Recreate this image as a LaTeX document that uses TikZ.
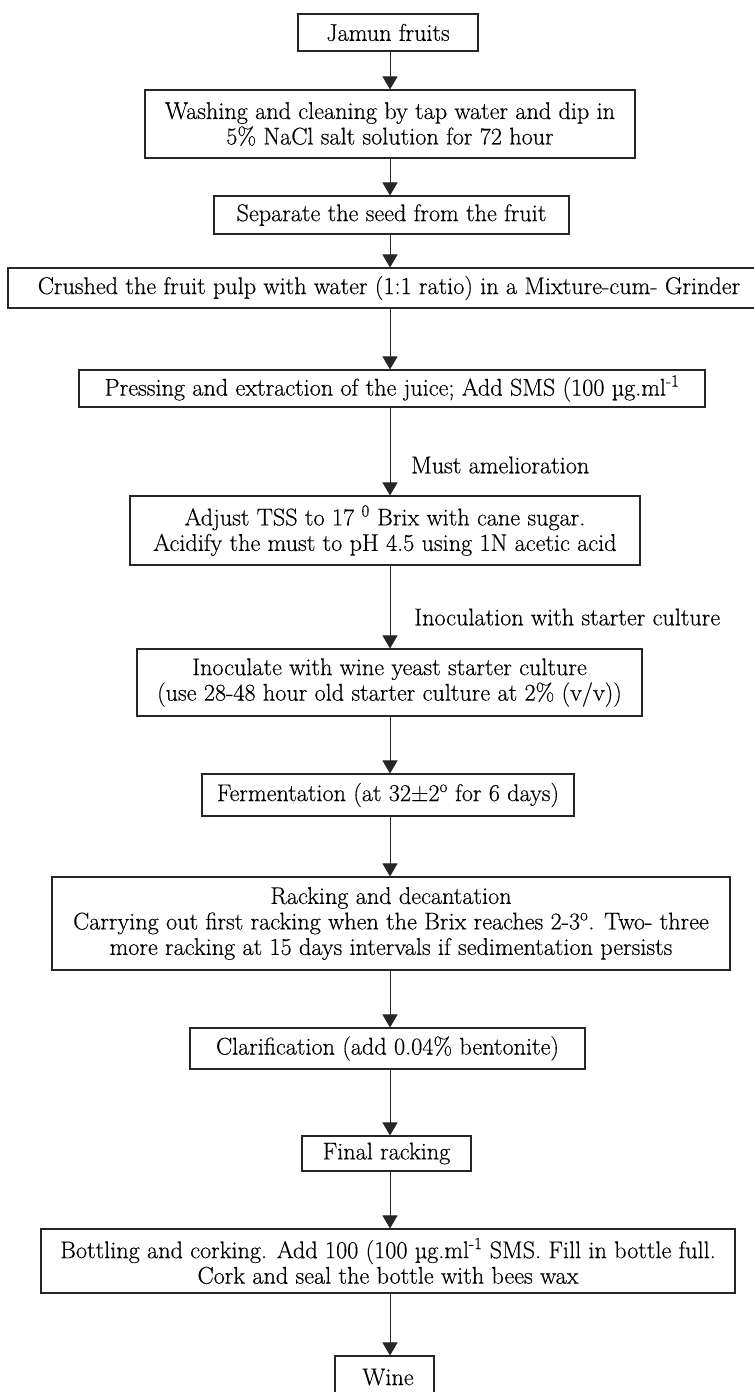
\documentclass[tikz,border=0pt]{standalone}
\usepackage{fontspec}
\setmainfont{Latin Modern Roman}[FakeBold=0.35]
\usetikzlibrary{arrows.meta}
\begin{document}
\begin{tikzpicture}[x=1pt,y=-1pt,
  stepbox/.style={draw=black!85,line width=1.1pt,inner sep=0pt,align=center,font=\fontsize{24.2}{25.5}\selectfont},
  arr/.style={draw=black!85,line width=1pt,-{Triangle[width=15pt,length=13pt]}},
  lbl/.style={anchor=west,inner sep=0pt,font=\fontsize{24.2}{25.5}\selectfont}]
\useasboundingbox[fill=white] (0,0) rectangle (754,1392);
\coordinate (spine) at (390,0);
\node[stepbox,minimum width=180pt,minimum height=37pt] (jamun) at (388,32.5) {Jamun fruits};
\node[stepbox,minimum width=490pt,minimum height=68pt] (wash) at (390,124) {Washing and cleaning by tap water and dip in\\5\% NaCl salt solution for 72 hour};
\node[stepbox,minimum width=355pt,minimum height=38pt] (sep) at (391.5,215) {Separate the seed from the fruit};
\node[stepbox,minimum width=762pt,minimum height=40pt] (crush) at (389,288) {Crushed the fruit pulp with water (1:1 ratio) in a Mixture-cum- Grinder};
\node[stepbox,minimum width=626pt,minimum height=37pt] (press) at (392,388.5) {Pressing and extraction of the juice; Add SMS (100 µg.ml\textsuperscript{-1}};
\node[stepbox,minimum width=510pt,minimum height=69pt] (adjust) at (385,530.5) {Adjust TSS to 17 \textsuperscript{0} Brix with cane sugar.\\Acidify the must to pH 4.5 using 1N acetic acid};
\node[stepbox,minimum width=505pt,minimum height=67pt] (inoc) at (389.5,682.5) {Inoculate with wine yeast starter culture\\(use 28-48 hour old starter culture at 2\% (v/v))};
\node[stepbox,minimum width=372pt,minimum height=42pt] (ferm) at (388,795) {Fermentation (at 32±2\textsuperscript{o} for 6 days)};
\node[stepbox,minimum width=678pt,minimum height=93pt] (rack) at (391,923.5) {Racking and decantation\\Carrying out first racking when the Brix reaches 2-3\textsuperscript{o}. Two- three\\more racking at 15 days intervals if sedimentation persists};
\node[stepbox,minimum width=395pt,minimum height=41pt] (clar) at (387.5,1048.5) {Clarification (add 0.04\% bentonite)};
\node[stepbox,minimum width=169pt,minimum height=35pt] (final) at (386.5,1153.5) {Final racking};
\node[stepbox,minimum width=694pt,minimum height=64pt] (bottle) at (388,1261) {Bottling and corking. Add 100 (100 µg.ml\textsuperscript{-1}\ SMS. Fill in bottle full.\\Cork and seal the bottle with bees wax};
\node[stepbox,minimum width=99pt,minimum height=42pt] (wine) at (384.5,1377) {\hspace*{7pt}Wine};
\node[lbl] (lma) at (411,465) {Must amelioration};
\node[lbl] (lin) at (414,617) {Inoculation with starter culture};
\foreach \a/\b in {jamun/wash,wash/sep,sep/crush,crush/press,press/adjust,adjust/inoc,inoc/ferm,ferm/rack,rack/clar,clar/final,final/bottle,bottle/wine}
  \draw[arr] (spine |- \a.south) -- (spine |- \b.north);
\end{tikzpicture}
\end{document}
